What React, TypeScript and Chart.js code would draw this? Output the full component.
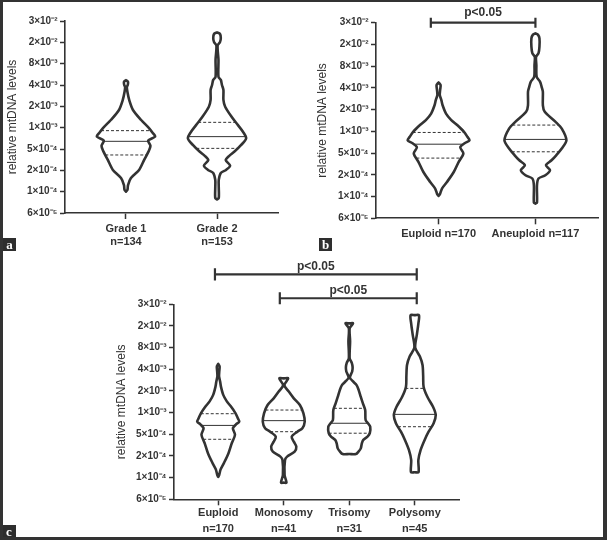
import React, { useEffect, useRef } from 'react';
import { Chart, registerables } from 'chart.js';

Chart.register(...registerables);

const FONT = '"Liberation Sans", Arial, Helvetica, sans-serif';
const INK = '#333333';

// y-axis tick labels, bottom to top (evenly spaced levels 0..9)
const yTickLabels = ['6×10⁻⁵', '1×10⁻⁴', '2×10⁻⁴', '5×10⁻⁴', '1×10⁻³', '2×10⁻³', '4×10⁻³', '8×10⁻³', '2×10⁻²', '3×10⁻²'];
const yTitle = 'relative mtDNA levels';

// ---- Panel a : tumour grade ----
const gradeLabels = [['Grade 1', 'n=134'], ['Grade 2', 'n=153']];
const gradeMedians = [3.36, 3.58];
const gradeQ1 = [2.72, 3.03];
const gradeQ3 = [3.86, 4.25];
// [level on axis, relative density]
const grade1Density = [[1.0, 0], [1.08, 0.05], [1.31, 0.07], [1.64, 0.17], [2.02, 0.45], [2.48, 0.62], [2.9, 0.78], [3.15, 0.84], [3.4, 0.76], [3.58, 1.0], [3.75, 0.92], [3.98, 0.79], [4.36, 0.52], [4.83, 0.24], [5.3, 0.11], [5.67, 0.05], [5.9, 0.03], [6.0, 0.06], [6.14, 0.07], [6.23, 0]];
const grade2Density = [[0.64, 0], [0.7, 0.06], [1.2, 0.06], [1.55, 0.06], [1.88, 0.13], [2.02, 0.31], [2.22, 0.45], [2.48, 0.3], [2.68, 0.42], [2.88, 0.6], [3.19, 0.83], [3.5, 1.0], [3.81, 0.89], [4.12, 0.72], [4.51, 0.5], [4.98, 0.28], [5.3, 0.22], [5.77, 0.22], [6.0, 0.17], [6.24, 0.13], [6.38, 0.05], [7.18, 0.05], [7.85, 0.02], [8.0, 0.1], [8.2, 0.13], [8.4, 0.1], [8.47, 0]];

// ---- Panel b : ploidy ----
const ploidyLabels = ['Euploid n=170', 'Aneuploid n=117'];
const ploidyMedians = [3.41, 3.63];
const ploidyQ1 = [2.77, 3.06];
const ploidyQ3 = [3.95, 4.29];
const euploidDensity = [[1.03, 0], [1.1, 0.04], [1.37, 0.11], [1.67, 0.27], [2.13, 0.49], [2.6, 0.65], [2.98, 0.8], [3.27, 0.7], [3.45, 0.84], [3.59, 1.0], [3.75, 0.93], [3.98, 0.82], [4.29, 0.6], [4.52, 0.41], [4.82, 0.24], [5.2, 0.13], [5.44, 0.09], [5.67, 0.04], [5.9, 0.05], [6.13, 0.065], [6.25, 0]];
const aneuploidDensity = [[0.68, 0], [0.72, 0.05], [1.52, 0.05], [1.83, 0.1], [1.98, 0.32], [2.21, 0.47], [2.44, 0.34], [2.67, 0.52], [2.9, 0.67], [3.21, 0.85], [3.59, 1.0], [4.13, 0.85], [4.44, 0.65], [4.9, 0.3], [5.2, 0.24], [5.82, 0.24], [6.05, 0.2], [6.28, 0.15], [6.51, 0.04], [7.05, 0.03], [7.43, 0.02], [7.6, 0.1], [7.9, 0.13], [8.28, 0.13], [8.45, 0.08], [8.51, 0]];
const ploidyComparisons = [{ from: 0, to: 1, label: 'p<0.05' }];

// ---- Panel c : karyotype ----
const karyotypeLabels = [['Euploid', 'n=170'], ['Monosomy', 'n=41'], ['Trisomy', 'n=31'], ['Polysomy', 'n=45']];
const karyotypeMedians = [3.41, 3.63, 3.51, 3.92];
const karyotypeQ1 = [2.77, 3.12, 3.05, 3.35];
const karyotypeQ3 = [3.95, 4.12, 4.2, 5.12];
const monosomyDensity = [[0.77, 0], [0.77, 0.13], [1.12, 0.04], [1.81, 0.06], [1.97, 0.16], [2.2, 0.52], [2.43, 0.6], [2.66, 0.48], [2.89, 0.38], [3.12, 0.65], [3.28, 0.89], [3.58, 1.0], [3.97, 0.94], [4.35, 0.77], [4.66, 0.48], [4.97, 0.24], [5.27, 0.03], [5.58, 0.21], [5.58, 0]];
const trisomyDensity = [[2.09, 0], [2.09, 0.32], [2.2, 0.44], [2.35, 0.55], [2.58, 0.6], [2.74, 0.67], [2.89, 0.87], [3.05, 0.98], [3.35, 1.0], [3.5, 0.9], [3.66, 0.78], [4.12, 0.76], [4.43, 0.65], [4.73, 0.55], [5.04, 0.45], [5.27, 0.35], [5.45, 0.17], [5.62, 0.03], [5.9, 0.14], [6.1, 0.16], [6.3, 0.12], [6.5, 0.02], [7.3, 0.04], [7.89, 0.02], [8.12, 0.18], [8.12, 0]];
const polysomyDensity = [[1.25, 0], [1.25, 0.18], [1.81, 0.17], [2.28, 0.28], [2.74, 0.47], [3.12, 0.66], [3.51, 0.9], [3.89, 1.0], [4.27, 0.87], [4.73, 0.6], [5.2, 0.42], [5.7, 0.4], [6.2, 0.37], [6.6, 0.24], [7.0, 0.02], [7.6, 0.1], [8.1, 0.17], [8.5, 0.2], [8.5, 0]];
const karyotypeComparisons = [
  { from: 0, to: 3, label: 'p<0.05' },
  { from: 1, to: 3, label: 'p<0.05' },
];

// ---------------- helpers ----------------
const HALF_WIDTH = 0.32; // max violin half width in category units

function violinPath(profile: number[][], c: number) {
  const right = profile.map(([lv, d]) => ({ x: c + HALF_WIDTH * d, y: lv }));
  const left = profile.slice().reverse().map(([lv, d]) => ({ x: c - HALF_WIDTH * d, y: lv }));
  return [...right, ...left];
}

function densityAt(profile: number[][], level: number) {
  for (let i = 0; i < profile.length - 1; i++) {
    const [l0, d0] = profile[i];
    const [l1, d1] = profile[i + 1];
    if (level >= l0 && level <= l1 && l1 > l0) {
      return d0 + ((level - l0) / (l1 - l0)) * (d1 - d0);
    }
  }
  return 0;
}

type Layout = {
  left: number; top: number; width: number; height: number;
  padTop: number; padRight: number; yWidth: number; xHeight: number;
  titlePad: number; xPad: number; labelLineHeight: number; labelPad: number;
  brackets?: { level: number; startShift: number; endShift: number }[];
  bracketTick?: number; textGap?: number;
};

type Spec = {
  labels: (string | string[])[];
  profiles: number[][][];
  medians: number[];
  q1: number[];
  q3: number[];
  comparisons: { from: number; to: number; label: string }[];
  layout: Layout;
};

function buildConfig(spec: Spec) {
  const L = spec.layout;
  const n = spec.labels.length;
  const datasets: any[] = [];
  const lineBase = { showLine: true, pointRadius: 0, pointHoverRadius: 0, fill: false };

  spec.profiles.forEach((profile, i) => {
    const c = i + 1;
    datasets.push({
      ...lineBase,
      data: violinPath(profile, c),
      borderColor: INK,
      borderWidth: 2.6,
      tension: 0.28,
      borderJoinStyle: 'round',
      borderCapStyle: 'round',
    });
    const stat = (level: number, dash: number[]) => {
      const w = HALF_WIDTH * densityAt(profile, level);
      datasets.push({
        ...lineBase,
        data: [{ x: c - w, y: level }, { x: c + w, y: level }],
        borderColor: INK,
        borderWidth: 1,
        borderDash: dash,
        tension: 0,
      });
    };
    stat(spec.medians[i], []);
    stat(spec.q1[i], [3, 2]);
    stat(spec.q3[i], [3, 2]);
  });

  const textItems: { x1: number; x2: number; level: number; label: string }[] = [];
  spec.comparisons.forEach((cmp, k) => {
    const geo = L.brackets![k];
    const x1 = cmp.from + 1 + geo.startShift;
    const x2 = cmp.to + 1 + geo.endShift;
    const t = L.bracketTick!;
    datasets.push({
      ...lineBase,
      data: [
        { x: x1, y: geo.level + t }, { x: x1, y: geo.level - t }, { x: x1, y: geo.level },
        { x: x2, y: geo.level }, { x: x2, y: geo.level + t }, { x: x2, y: geo.level - t },
      ],
      borderColor: INK,
      borderWidth: 2.2,
      tension: 0,
      clip: false,
    });
    textItems.push({ x1, x2, level: geo.level, label: cmp.label });
  });

  const textPlugin = {
    id: 'bracketText',
    afterDatasetsDraw(chart: any) {
      const { ctx } = chart;
      const xs = chart.scales.x;
      const ys = chart.scales.y;
      ctx.save();
      ctx.font = `bold 12px ${FONT}`;
      ctx.fillStyle = INK;
      ctx.textAlign = 'center';
      ctx.textBaseline = 'alphabetic';
      textItems.forEach((it) => {
        const px = (xs.getPixelForValue(it.x1) + xs.getPixelForValue(it.x2)) / 2;
        const py = ys.getPixelForValue(it.level) - (L.textGap || 4);
        ctx.fillText(it.label, px, py);
      });
      ctx.restore();
    },
  };

  return {
    type: 'scatter',
    data: { datasets },
    plugins: [textPlugin],
    options: {
      responsive: false,
      animation: false,
      events: [],
      layout: { padding: { left: 0, top: L.padTop, right: L.padRight, bottom: 0 }, autoPadding: false },
      plugins: { legend: { display: false }, tooltip: { enabled: false }, title: { display: false } },
      scales: {
        x: {
          type: 'linear',
          position: 'bottom',
          min: 1 - L.xPad,
          max: n + L.xPad,
          afterFit: (s: any) => { s.height = L.xHeight; },
          afterBuildTicks: (s: any) => { s.ticks = spec.labels.map((_, i) => ({ value: i + 1 })); },
          ticks: {
            autoSkip: false,
            maxRotation: 0,
            padding: L.labelPad,
            color: INK,
            font: { family: FONT, size: 11, weight: 'bold', lineHeight: L.labelLineHeight },
            callback: (v: number) => spec.labels[Math.round(v) - 1],
          },
          grid: { drawOnChartArea: false, tickLength: 6, tickWidth: 1.5, tickColor: INK },
          border: { display: true, color: INK, width: 1.6 },
        },
        y: {
          type: 'linear',
          position: 'left',
          min: 0,
          max: 9,
          afterFit: (s: any) => { s.width = L.yWidth; },
          afterBuildTicks: (s: any) => { s.ticks = yTickLabels.map((_, i) => ({ value: i })); },
          ticks: {
            autoSkip: false,
            padding: 2.5,
            color: INK,
            font: { family: FONT, size: 10, weight: 'bold' },
            callback: (v: number) => yTickLabels[Math.round(v)],
          },
          grid: { drawOnChartArea: false, tickLength: 5, tickWidth: 1.5, tickColor: INK },
          border: { display: true, color: INK, width: 1.6 },
          title: {
            display: true,
            text: yTitle,
            color: INK,
            font: { family: FONT, size: 12, weight: 'normal', lineHeight: 1.2 },
            padding: { top: L.titlePad, bottom: 0 },
          },
        },
      },
    },
  };
}

const panelA: Spec = {
  labels: gradeLabels,
  profiles: [grade1Density, grade2Density],
  medians: gradeMedians,
  q1: gradeQ1,
  q3: gradeQ3,
  comparisons: [],
  layout: { left: 0, top: 0, width: 300, height: 262, padTop: 21, padRight: 22, yWidth: 65, xHeight: 49, titlePad: 5.8, xPad: 0.67, labelLineHeight: 1.2, labelPad: 3 },
};

const panelB: Spec = {
  labels: ploidyLabels,
  profiles: [euploidDensity, aneuploidDensity],
  medians: ploidyMedians,
  q1: ploidyQ1,
  q3: ploidyQ3,
  comparisons: ploidyComparisons,
  layout: {
    left: 300, top: 0, width: 307, height: 262, padTop: 22.7, padRight: 9, yWidth: 76, xHeight: 43.7, titlePad: 15.5, xPad: 0.646, labelLineHeight: 1.2, labelPad: 3,
    brackets: [{ level: 9, startShift: -0.08, endShift: 0 }], bracketTick: 0.23, textGap: 6.5,
  },
};

const panelC: Spec = {
  labels: karyotypeLabels,
  profiles: [euploidDensity, monosomyDensity, trisomyDensity, polysomyDensity],
  medians: karyotypeMedians,
  q1: karyotypeQ1,
  q3: karyotypeQ3,
  comparisons: karyotypeComparisons,
  layout: {
    left: 0, top: 250, width: 607, height: 290, padTop: 54.3, padRight: 148, yWidth: 174, xHeight: 40.7, titlePad: 114.5, xPad: 0.675, labelLineHeight: 1.42, labelPad: 0,
    brackets: [{ level: 10.38, startShift: -0.05, endShift: 0.03 }, { level: 9.28, startShift: -0.06, endShift: 0.03 }], bracketTick: 0.28, textGap: 4,
  },
};

function ViolinPanel({ spec }: { spec: Spec }) {
  const ref = useRef<HTMLCanvasElement | null>(null);
  useEffect(() => {
    if (!ref.current) return;
    const chart = new Chart(ref.current, buildConfig(spec) as any);
    return () => chart.destroy();
  }, [spec]);
  const L = spec.layout;
  return (
    <canvas
      ref={ref}
      width={L.width}
      height={L.height}
      style={{ position: 'absolute', left: L.left, top: L.top, width: L.width, height: L.height, display: 'block' }}
    />
  );
}

function Tag({ text, left, top, width, height }: { text: string; left: number; top: number; width: number; height: number }) {
  return (
    <div
      style={{
        position: 'absolute', left, top, width, height, background: '#2e2e2e', color: '#fff',
        fontFamily: '"Liberation Serif", "Times New Roman", serif', fontWeight: 'bold', fontSize: 13,
        lineHeight: `${height}px`, textAlign: 'center',
      }}
    >
      {text}
    </div>
  );
}

export default function App() {
  return (
    <div style={{ position: 'absolute', left: 0, top: 0, width: 607, height: 540, background: '#fff', overflow: 'hidden' }}>
      <ViolinPanel spec={panelA} />
      <ViolinPanel spec={panelB} />
      <ViolinPanel spec={panelC} />
      <Tag text="a" left={3} top={238} width={13} height={13} />
      <Tag text="b" left={319} top={238} width={13} height={13} />
      <Tag text="c" left={2} top={525} width={14} height={13} />
      <div
        style={{
          position: 'absolute', left: 0, top: 0, width: 607, height: 540, boxSizing: 'border-box',
          borderStyle: 'solid', borderColor: '#333', borderWidth: '2px 4px 3px 3px', pointerEvents: 'none',
        }}
      />
    </div>
  );
}
